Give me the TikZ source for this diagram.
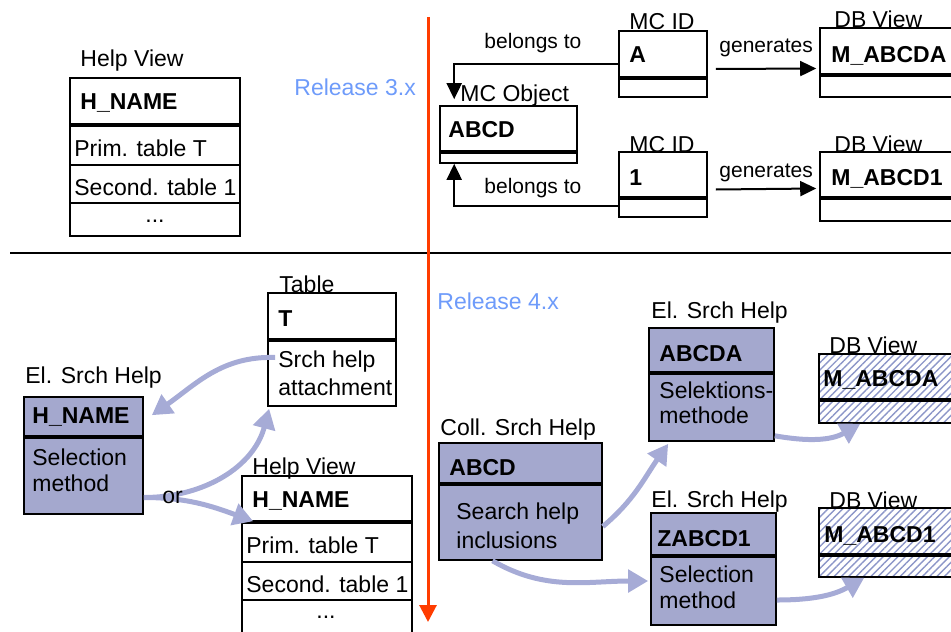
\documentclass[tikz,border=0pt]{standalone}
\usepackage{fontspec}
\setmainfont{Liberation Sans}
\usetikzlibrary{arrows.meta, calc, fit, patterns.meta}
\definecolor{mcfill}{RGB}{164,168,206}
\definecolor{mcarrow}{RGB}{166,171,214}
\definecolor{hatch}{RGB}{140,150,200}
\definecolor{release}{RGB}{110,155,250}
\definecolor{timeline}{RGB}{255,60,0}
\newcommand{\dtxt}{\fontsize{11.5}{13}\selectfont}
\newcommand{\stxt}{\fontsize{10.5}{12}\selectfont}

\tikzset{
  box/.style={draw, line width=0.8pt, inner sep=0pt},
  srch/.style={box, fill=mcfill},
  dbv/.style={box, pattern={Lines[angle=45,distance=2.6pt,line width=0.7pt]}, pattern color=hatch},
  hdr/.style={line width=1.8pt},
  rowline/.style={line width=0.7pt},
  txt/.style={anchor=base west, inner sep=0pt, font=\dtxt},
  key/.style={txt, font=\dtxt\bfseries},
  small/.style={txt, font=\stxt},
  blk/.style={line width=1pt, -{Triangle[width=7.5pt,length=8pt]}},
  lav/.style={draw=mcarrow, line width=2.5pt, -{Triangle[width=11pt,length=10pt]}},
}

\begin{document}
\begin{tikzpicture}[x=0.5pt, y=-0.5pt]
    \useasboundingbox (0,0) rectangle (951,631);
    % Zeitachse und Trennlinie
    \coordinate (rtop) at (428,17);
    \coordinate (rbot) at (428,622);
    \draw[line width=1pt] (10,253) -- (951,253);

    % Release 3.x: Help View
    \node[box, fit={(70,78) (240,236)}] (hv) {};
    \draw[hdr] (hv.west |- 0,125) -- (hv.east |- 0,125);
    \draw[rowline] (hv.west |- 0,165) -- (hv.east |- 0,165);
    \draw[rowline] (hv.west |- 0,203) -- (hv.east |- 0,203);
    \node[txt] (hvl) at (80,67) {Help View};
    \node[key] (hvk) at (80,110) {H\_NAME};
    \node[txt] (hvp) at (74,156) {Prim. table T};
    \node[txt] (hvs) at (74,195) {Second. table 1};
    \node[txt, anchor=base] (hvd) at (155,222) {...};
    \node[txt, text=release] (r3) at (294,96) {Release 3.x};

    % MC Object und MC IDs
    \node[box, fit={(440,106) (577,163)}] (mco) {};
    \draw[hdr] (mco.west |- 0,152) -- (mco.east |- 0,152);
    \node[txt] (mcol) at (460,102) {MC Object};
    \node[key] (mcok) at (448,137) {ABCD};

    \node[box, fit={(619,31) (707,97)}] (mcA) {};
    \draw[hdr] (mcA.west |- 0,78) -- (mcA.east |- 0,78);
    \node[txt] (mcAl) at (629,30) {MC ID};
    \node[key] (mcAk) at (629,63) {A};

    \node[box, fit={(619,152) (707,217)}] (mc1) {};
    \draw[hdr] (mc1.west |- 0,198) -- (mc1.east |- 0,198);
    \node[txt] (mc1l) at (629,152) {MC ID};
    \node[key] (mc1k) at (629,185) {1};

    % DB Views
    \node[box, fit={(820,28) (960,97)}] (dbA) {};
    \draw[hdr] (dbA.west |- 0,75) -- (dbA.east |- 0,75);
    \node[txt] (dbAl) at (834,28) {DB View};
    \node[key] (dbAk) at (831,63) {M\_ABCDA};

    \node[box, fit={(820,152) (960,221)}] (db1) {};
    \draw[hdr] (db1.west |- 0,198) -- (db1.east |- 0,198);
    \node[txt] (db1l) at (834,152) {DB View};
    \node[key] (db1k) at (831,185) {M\_ABCD1};

    % Pfeile oben
    \draw[blk] (mcA.west) -| ($(mco.north west)+(15,-6)$);
    \draw[blk] ($(mc1.south west)+(0,-12)$) -| ($(mco.south west)+(15,0)$);
    \node[small] (bel1) at (484,49) {belongs to};
    \node[small] (bel2) at (484,193) {belongs to};
    \draw[blk] ($(mcA.east)+(8,5)$) -- ($(dbA.west)+(-3,6)$);
    \draw[blk] ($(mc1.east)+(8,5)$) -- ($(db1.west)+(-3,2)$);
    \node[small] (gen1) at (719,53) {generates};
    \node[small] (gen2) at (719,177) {generates};

    % Release 4.x links
    \node[box, fit={(268,293) (396,406)}] (tbl) {};
    \draw[hdr] (tbl.west |- 0,340) -- (tbl.east |- 0,340);
    \node[txt] (tbll) at (279,292) {Table};
    \node[key] (tblk) at (278,326) {T};
    \node[txt] (tbla) at (278,367) {Srch help};
    \node[txt] (tblb) at (278,395) {attachment};

    \node[srch, fit={(24,397) (143,514)}] (ehn) {};
    \draw[hdr] (ehn.west |- 0,437) -- (ehn.east |- 0,437);
    \node[txt] (ehnl) at (25,383) {El. Srch Help};
    \node[key] (ehnk) at (32,423) {H\_NAME};
    \node[txt] (ehna) at (32,465) {Selection};
    \node[txt] (ehnb) at (32,491) {method};

    \node[box, fit={(242,476) (412,645)}] (hv2) {};
    \draw[hdr] (hv2.west |- 0,522) -- (hv2.east |- 0,522);
    \draw[rowline] (hv2.west |- 0,562) -- (hv2.east |- 0,562);
    \draw[rowline] (hv2.west |- 0,600) -- (hv2.east |- 0,600);
    \node[txt] (hv2l) at (252,474) {Help View};
    \node[key] (hv2k) at (252,507) {H\_NAME};
    \node[txt] (hv2p) at (246,553) {Prim. table T};
    \node[txt] (hv2s) at (246,592) {Second. table 1};
    \node[txt, anchor=base] (hv2d) at (326,618) {...};

    \draw[lav] ($(tbl.west)+(8,8)$) to[out=178, in=35] ($(ehn.north east)+(8,19)$);
    \draw[lav] ($(ehn.east)+(0,42)$) to[out=0, in=255] ($(tbl.south west)+(2,2)$);
    \draw[lav] ($(ehn.east)+(0,42)$) to[out=0, in=160] ($(hv2.north west)+(12,46)$);
    \node[txt] (or) at (162,503) {or};

    % Release 4.x rechts
    \node[txt, text=release] (r4) at (437,309) {Release 4.x};

    \node[srch, fit={(439,443) (602,560)}] (csh) {};
    \draw[hdr] (csh.west |- 0,484) -- (csh.east |- 0,484);
    \node[txt] (cshl) at (440,435) {Coll. Srch Help};
    \node[key] (cshk) at (449,475) {ABCD};
    \node[txt] (csha) at (456,519) {Search help};
    \node[txt] (cshb) at (456,548) {inclusions};

    \node[srch, fit={(649,328) (774,441)}] (esA) {};
    \draw[hdr] (esA.west |- 0,373) -- (esA.east |- 0,373);
    \node[txt] (esAl) at (651,318) {El. Srch Help};
    \node[key] (esAk) at (659,361) {ABCDA};
    \node[txt] (esAa) at (659,398) {Selektions-};
    \node[txt] (esAb) at (659,423) {methode};

    \node[srch, fit={(651,513) (776,625)}] (esZ) {};
    \draw[hdr] (esZ.west |- 0,556) -- (esZ.east |- 0,556);
    \node[txt] (esZl) at (651,507) {El. Srch Help};
    \node[key] (esZk) at (657,546) {ZABCD1};
    \node[txt] (esZa) at (659,582) {Selection};
    \node[txt] (esZb) at (659,608) {method};

    \node[dbv, fit={(819,354) (960,423)}] (dvA) {};
    \draw[hdr] (dvA.west |- 0,400) -- (dvA.east |- 0,400);
    \node[txt] (dvAl) at (829,353) {DB View};
    \node[key] (dvAk) at (823,386) {M\_ABCDA};

    \node[dbv, fit={(819,508) (960,577)}] (dvZ) {};
    \draw[hdr] (dvZ.west |- 0,555) -- (dvZ.east |- 0,555);
    \node[txt] (dvZl) at (829,508) {DB View};
    \node[key] (dvZk) at (824,542) {M\_ABCD1};

    \draw[lav] ($(csh.east)+(0,25)$) to[out=40, in=235] ($(esA.south west)+(20,2)$);
    \draw[lav] ($(csh.south)+(-28,0)$) to[out=-30, in=180] ($(esZ.west)+(-2,12)$);
    \draw[lav] ($(esA.south east)+(0,-6)$) to[out=-10, in=210] ($(dvA.south west)+(42,0)$);
    \draw[lav] ($(esZ.east)+(0,31)$) to[out=0, in=210] ($(dvZ.south west)+(46,0)$);

    % Zeitachse oben drauf
    \draw[draw=timeline, line width=1.5pt, -{Triangle[width=8.5pt,length=8.5pt]}] (rtop) -- (rbot);
\end{tikzpicture}
\end{document}
